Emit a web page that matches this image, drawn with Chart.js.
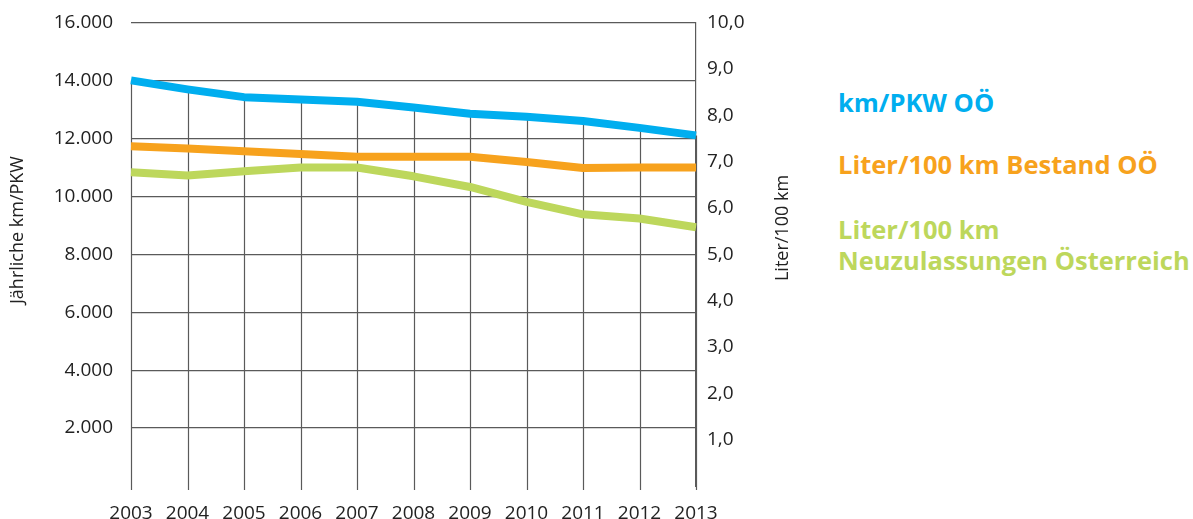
<!DOCTYPE html>
<html>
<head>
<meta charset="utf-8">
<script src="https://cdn.jsdelivr.net/npm/chart.js@4.4.1/dist/chart.umd.min.js"></script>
<style>
    html, body { margin: 0; padding: 0; background: #fff; overflow: hidden; }
    #wrap { position: relative; width: 1193px; height: 519px; overflow: hidden; }
    #chartBox { position: absolute; left: 0; top: -7px; width: 810px; height: 526px; }
    .leg { position: absolute; left: 838px; font-family: "Open Sans", sans-serif; font-weight: 700; font-size: 25.5px; line-height: 31px; white-space: nowrap; }
</style>
</head>
<body>
<div id="wrap">
    <div id="chartBox"><canvas id="fuelChart"></canvas></div>
    <div class="leg" style="top: 87px; color: #00aeef;">km/PKW OÖ</div>
    <div class="leg" style="top: 149px; color: #f7a21d;">Liter/100 km Bestand OÖ</div>
    <div class="leg" style="top: 214px; color: #bdd75c;">Liter/100 km<br>Neuzulassungen Österreich</div>
</div>
<script>
// Chart data
const years = ["2003", "2004", "2005", "2006", "2007", "2008", "2009", "2010", "2011", "2012", "2013"];
const kmPerCar = [14000, 13690, 13420, 13340, 13260, 13060, 12850, 12740, 12600, 12360, 12100];
const litersStock = [7.33, 7.28, 7.22, 7.16, 7.10, 7.10, 7.10, 6.99, 6.86, 6.87, 6.87];
const litersNewCars = [6.77, 6.70, 6.79, 6.87, 6.87, 6.68, 6.45, 6.13, 5.86, 5.77, 5.58];

const gridColor = '#5a5a5a';
const textColor = '#222';

// "16000" -> "16.000"
function formatThousands(v) {
    return String(v).replace(/\B(?=(\d{3})+(?!\d))/g, '.');
}

// Vertical lines from the km/PKW line down to below the axis
const dropLines = {
    id: 'dropLines',
    beforeDatasetsDraw(chart) {
        const ctx = chart.ctx;
        const bottom = chart.chartArea.bottom + 4;
        const points = chart.getDatasetMeta(0).data;
        ctx.save();
        ctx.strokeStyle = gridColor;
        ctx.lineWidth = 1.2;
        points.forEach(p => {
            ctx.beginPath();
            ctx.moveTo(Math.round(p.x) + 0.5, p.y);
            ctx.lineTo(Math.round(p.x) + 0.5, bottom);
            ctx.stroke();
        });
        ctx.restore();
    }
};

// Rotated axis titles (canvas is shifted 7px up)
const axisTitles = {
    id: 'axisTitles',
    afterDraw(chart) {
        const ctx = chart.ctx;
        ctx.save();
        ctx.fillStyle = textColor;
        ctx.font = '500 18px "Open Sans"';
        ctx.textAlign = 'center';
        ctx.textBaseline = 'middle';
        [[18, 237, 'Jährliche km/PKW'], [783, 235, 'Liter/100 km']].forEach(([x, y, text]) => {
            ctx.save();
            ctx.translate(x, y);
            ctx.rotate(-Math.PI / 2);
            ctx.fillText(text, 0, 0);
            ctx.restore();
        });
        ctx.restore();
    }
};

const lineStyle = {
    borderWidth: 8,
    pointRadius: 0,
    tension: 0,
    borderCapStyle: 'butt',
    borderJoinStyle: 'round',
    fill: false
};

new Chart(document.getElementById('fuelChart'), {
    type: 'line',
    data: {
        labels: years,
        datasets: [
            { ...lineStyle, label: 'km/PKW OÖ', data: kmPerCar, borderColor: '#00aeef', yAxisID: 'y' },
            { ...lineStyle, label: 'Liter/100 km Bestand OÖ', data: litersStock, borderColor: '#f7a21d', yAxisID: 'y1' },
            { ...lineStyle, label: 'Liter/100 km Neuzulassungen Österreich', data: litersNewCars, borderColor: '#bdd75c', yAxisID: 'y1' }
        ]
    },
    options: {
        responsive: true,
        maintainAspectRatio: false,
        animation: false,
        layout: { padding: { top: 15, left: 0, right: 0, bottom: 0 } },
        plugins: {
            legend: { display: false },
            tooltip: { enabled: false }
        },
        scales: {
            x: {
                offset: false,
                grid: { display: false },
                border: { display: false },
                ticks: { color: textColor, font: { family: 'Open Sans', size: 19 }, padding: 8, maxRotation: 0, autoSkip: false },
                afterFit: s => { s.height = 33; }
            },
            y: {
                position: 'left',
                min: 0,
                max: 16000,
                grid: {
                    drawTicks: false,
                    color: c => c.tick && c.tick.value === 0 ? 'rgba(0,0,0,0)' : gridColor,
                    lineWidth: 1.2
                },
                border: { display: false },
                ticks: {
                    stepSize: 2000,
                    padding: 18,
                    color: textColor,
                    font: { family: 'Open Sans', size: 19 },
                    callback: v => v === 0 ? '' : formatThousands(v)
                },
                afterFit: s => { s.width = 131; }
            },
            y1: {
                position: 'right',
                min: 0,
                max: 10,
                grid: { display: false, drawTicks: false },
                border: { display: true, color: gridColor, width: 1.2 },
                ticks: {
                    stepSize: 1,
                    padding: 11,
                    color: textColor,
                    font: { family: 'Open Sans', size: 19 },
                    callback: v => v === 0 ? '' : v.toFixed(1).replace('.', ',')
                },
                afterFit: s => { s.width = 114; }
            }
        }
    },
    plugins: [dropLines, axisTitles]
});
</script>
</body>
</html>
